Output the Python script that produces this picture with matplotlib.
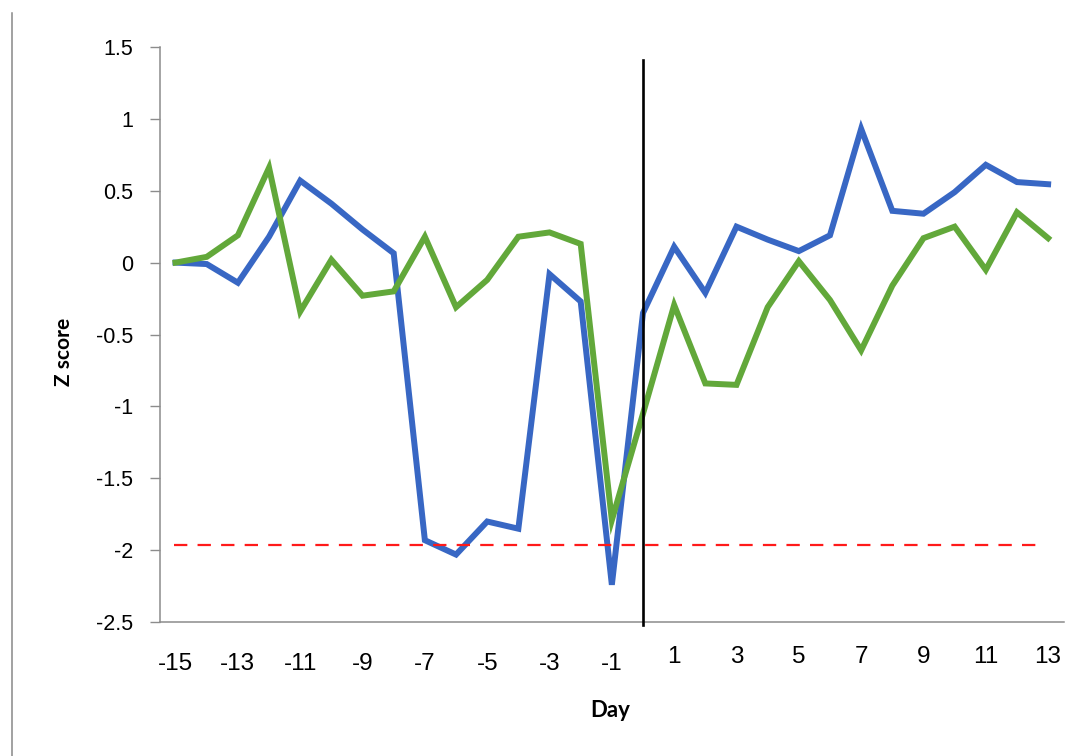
import matplotlib
matplotlib.use("Agg")
import matplotlib.pyplot as plt
from matplotlib.lines import Line2D

# Daily z scores around the event (day 0)
days = list(range(-15, 14))
blue_z = [0.0, -0.01, -0.14, 0.18, 0.57, 0.41, 0.23, 0.065, -1.93, -2.03,
          -1.80, -1.85, -0.08, -0.27, -2.24, -0.35, 0.11, -0.21, 0.25, 0.16,
          0.08, 0.19, 0.93, 0.36, 0.34, 0.49, 0.68, 0.56, 0.545]
green_z = [0.0, 0.04, 0.19, 0.66, -0.34, 0.02, -0.23, -0.20, 0.18, -0.31,
           -0.12, 0.18, 0.21, 0.13, -1.79, -1.05, -0.295, -0.84, -0.85, -0.31,
           0.01, -0.26, -0.61, -0.16, 0.17, 0.25, -0.05, 0.35, 0.17]
threshold = -1.96
event_day = 0

neg_ticks = [-15, -13, -11, -9, -7, -5, -3, -1]
pos_ticks = [1, 3, 5, 7, 9, 11, 13]
y_ticks = [-2.5, -2, -1.5, -1, -0.5, 0, 0.5, 1, 1.5]
y_ticklabels = ["-2.5", "-2", "-1.5", "-1", "-0.5", "0", "0.5", "1", "1.5"]

tick_font = "Liberation Sans"
label_font = "Lato"
axis_grey = "#8c8c8c"

fig = plt.figure(figsize=(10.81, 7.56), dpi=100)
ax = fig.add_axes([0.148, 0.177, 0.836, 0.761])

ax.plot(days, blue_z, color="#3867c4", lw=4.3, solid_joinstyle="miter", zorder=3)
ax.plot(days, green_z, color="#62a83a", lw=4.3, solid_joinstyle="miter", zorder=4)
ax.plot([days[0] - 0.05, 12.7], [threshold, threshold], color="#ff1a1a", lw=1.6,
        dashes=(6.0, 4.6), zorder=5)
ax.plot([event_day, event_day], [-2.52, 1.41], color="black", lw=1.9,
        zorder=6, clip_on=False)

ax.set_xlim(-15.5, 13.5)
ax.set_ylim(-2.5, 1.5)

ax.set_yticks(y_ticks)
ax.set_yticklabels(y_ticklabels, fontsize=15.5, family=tick_font)
ax.tick_params(axis="y", length=7.2, width=1.0, color=axis_grey, pad=12)

# negative days sit a little lower than positive ones
ax.set_xticks(neg_ticks)
ax.set_xticklabels([str(d) for d in neg_ticks], fontsize=17.5, family=tick_font)
ax.set_xticks(pos_ticks, minor=True)
ax.set_xticklabels([str(d) for d in pos_ticks], minor=True, fontsize=17.5,
                   family=tick_font)
ax.tick_params(axis="x", which="major", length=0, pad=22)
ax.tick_params(axis="x", which="minor", length=0, pad=17.5)

for side in ["top", "right"]:
    ax.spines[side].set_visible(False)
for side in ["left", "bottom"]:
    ax.spines[side].set_color(axis_grey)
    ax.spines[side].set_linewidth(1.1)

ax.set_ylabel("Z score", fontsize=15, fontweight="bold", family=label_font)
ax.yaxis.set_label_coords(-0.095, 0.47)
ax.set_xlabel("Day", fontsize=16, fontweight="bold", family=label_font)
ax.xaxis.set_label_coords(0.498, -0.135)

# page margin rule on the left
fig.add_artist(Line2D([12 / 1081, 12 / 1081], [0, 1 - 13 / 756],
                      transform=fig.transFigure, color="#888888", lw=1.1))

fig.savefig("out.png", dpi=100)
